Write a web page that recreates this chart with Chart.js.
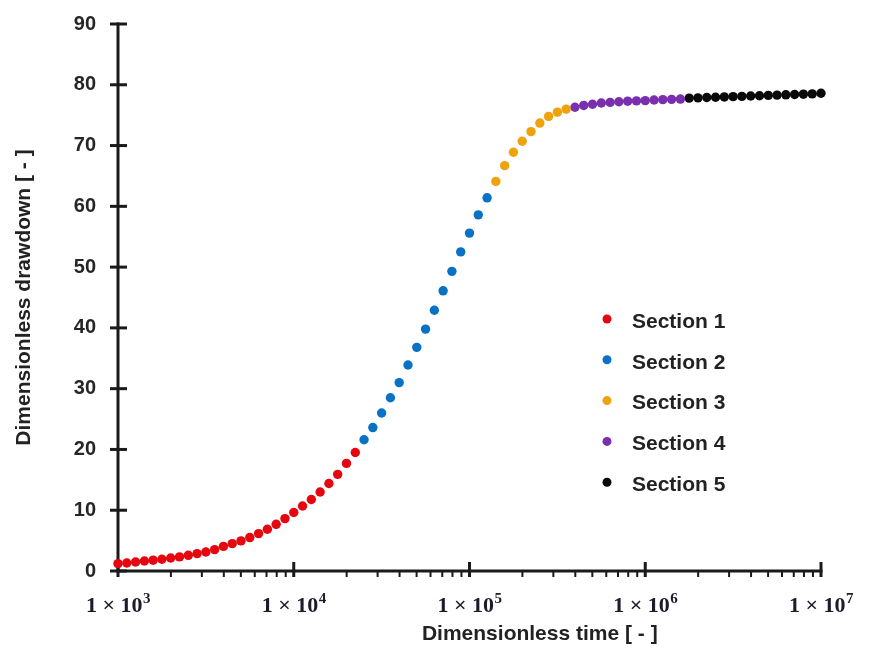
<!DOCTYPE html>
<html>
<head>
<meta charset="utf-8">
<title>Dimensionless drawdown vs dimensionless time</title>
<script src="https://cdn.jsdelivr.net/npm/chart.js@4.4.0/dist/chart.umd.min.js"></script>
<style>
  html, body { margin: 0; padding: 0; background: #ffffff; }
</style>
</head>
<body>
<canvas id="drawdownChart" width="876" height="651"></canvas>
<script>
'use strict';

// ***** DATA *****
let sectionNames = ['Section 1', 'Section 2', 'Section 3', 'Section 4', 'Section 5'];
let sectionColors = ['#e5060f', '#0a72c4', '#eea30c', '#7a2fae', '#0a0a0a'];

let section1Time = [1000, 1122, 1259, 1413, 1585, 1778, 1995, 2239, 2512, 2818,
  3162, 3548, 3981, 4467, 5012, 5623, 6310, 7079, 7943, 8913,
  10000, 11220, 12590, 14130, 15850, 17780, 19950, 22390];
let section1Drawdown = [1.22, 1.32, 1.48, 1.65, 1.78, 1.94, 2.14, 2.32, 2.58, 2.86,
  3.13, 3.52, 4.05, 4.5, 4.95, 5.5, 6.15, 6.87, 7.68, 8.62,
  9.62, 10.7, 11.76, 13.0, 14.4, 15.9, 17.7, 19.5];

let section2Time = [25120, 28180, 31620, 35480, 39810, 44670, 50120, 56230, 63100, 70790,
  79430, 89130, 100000, 112200, 125900];
let section2Drawdown = [21.6, 23.6, 26.0, 28.5, 31.0, 33.9, 36.8, 39.8, 42.9, 46.1,
  49.3, 52.5, 55.6, 58.6, 61.4];

let section3Time = [141300, 158500, 177800, 199500, 223900, 251200, 281800, 316200, 354800];
let section3Drawdown = [64.1, 66.7, 68.9, 70.7, 72.3, 73.7, 74.8, 75.5, 76.0];

let section4Time = [398100, 446700, 501200, 562300, 631000, 707900, 794300, 891300,
  1000000, 1122000, 1259000, 1413000, 1585000];
let section4Drawdown = [76.3, 76.6, 76.8, 77.0, 77.1, 77.2, 77.3, 77.35,
  77.4, 77.5, 77.55, 77.6, 77.65];

let section5Time = [1778000, 1995000, 2239000, 2512000, 2818000, 3162000, 3548000, 3981000,
  4467000, 5012000, 5623000, 6310000, 7079000, 7943000, 8913000, 10000000];
let section5Drawdown = [77.8, 77.85, 77.9, 77.95, 78.0, 78.05, 78.1, 78.15,
  78.2, 78.25, 78.3, 78.35, 78.4, 78.45, 78.5, 78.6];

let xTickValues = [1000, 10000, 100000, 1000000, 10000000];
let xTickBase = '1 × 10';
let xTickExponents = ['3', '4', '5', '6', '7'];
let xMinorSteps = [2, 3, 4, 5, 6, 7, 8, 9];
let yTickStep = 10;

// ***** HELPERS *****
function toPoints(times, values){
  let pts = [];
  for(let i = 0; i < times.length; i++){
    pts.push({x: times[i], y: values[i]});
  }
  return pts;
}

let sectionTimes = [section1Time, section2Time, section3Time, section4Time, section5Time];
let sectionDrawdowns = [section1Drawdown, section2Drawdown, section3Drawdown, section4Drawdown, section5Drawdown];

let datasets = [];
for(let s = 0; s < sectionNames.length; s++){
  datasets.push({
    label: sectionNames[s],
    data: toPoints(sectionTimes[s], sectionDrawdowns[s]),
    backgroundColor: sectionColors[s],
    borderColor: sectionColors[s],
    pointRadius: 4.7,
    pointBorderWidth: 0,
    pointHoverRadius: 4.7,
    showLine: false,
    clip: false
  });
}

// ***** PLUGINS *****
// axis lines plus the cross ticks, drawn from the scales
const axesPlugin = {
  id: 'axesPlugin',
  beforeDatasetsDraw(chart){
    const ctx = chart.ctx;
    const xs = chart.scales.x;
    const ys = chart.scales.y;
    const area = chart.chartArea;
    ctx.save();
    ctx.strokeStyle = '#1a1a1a';
    ctx.lineCap = 'butt';

    // y axis + ticks
    ctx.lineWidth = 3;
    ctx.beginPath();
    ctx.moveTo(area.left, ys.getPixelForValue(90) - 1.5);
    ctx.lineTo(area.left, ys.getPixelForValue(0) + 1.5);
    ctx.stroke();
    for(let v = 0; v <= 90; v += yTickStep){
      let py = ys.getPixelForValue(v);
      ctx.beginPath();
      ctx.moveTo(area.left - 8, py);
      ctx.lineTo(area.left + 9, py);
      ctx.stroke();
    }

    // x axis + decade ticks + minor ticks
    let y0 = ys.getPixelForValue(0);
    ctx.beginPath();
    ctx.moveTo(area.left, y0);
    ctx.lineTo(xs.getPixelForValue(xTickValues[xTickValues.length - 1]) + 1.5, y0);
    ctx.stroke();
    for(let i = 0; i < xTickValues.length; i++){
      let px = xs.getPixelForValue(xTickValues[i]);
      ctx.lineWidth = 3;
      ctx.beginPath();
      ctx.moveTo(px, y0 - 9);
      ctx.lineTo(px, y0 + 6);
      ctx.stroke();
      if(i < xTickValues.length - 1){
        ctx.lineWidth = 2;
        for(let m = 0; m < xMinorSteps.length; m++){
          let mx = xs.getPixelForValue(xTickValues[i] * xMinorSteps[m]);
          ctx.beginPath();
          ctx.moveTo(mx, y0);
          ctx.lineTo(mx, y0 + 6);
          ctx.stroke();
        }
      }
    }
    ctx.restore();
  }
};

// x tick labels with raised exponents, legend inside the plot, x title (right of centre in the original)
const labelsPlugin = {
  id: 'labelsPlugin',
  afterDraw(chart){
    const ctx = chart.ctx;
    const xs = chart.scales.x;
    const area = chart.chartArea;
    ctx.save();

    // x tick labels
    const baseFont = 'bold 22px "Liberation Serif", "Times New Roman", serif';
    const expFont = 'bold 15px "Liberation Serif", "Times New Roman", serif';
    ctx.fillStyle = '#1b1b2b';
    ctx.textBaseline = 'alphabetic';
    ctx.textAlign = 'left';
    for(let i = 0; i < xTickValues.length; i++){
      let px = xs.getPixelForValue(xTickValues[i]);
      ctx.font = baseFont;
      let wBase = ctx.measureText(xTickBase).width;
      ctx.font = expFont;
      let wExp = ctx.measureText(xTickExponents[i]).width;
      let startX = px - (wBase + wExp) / 2;
      ctx.font = baseFont;
      ctx.fillText(xTickBase, startX, 612);
      ctx.font = expFont;
      ctx.fillText(xTickExponents[i], startX + wBase + 0.5, 603);
    }

    // legend
    ctx.font = 'bold 21px "Liberation Sans", Arial, sans-serif';
    ctx.textBaseline = 'middle';
    ctx.textAlign = 'left';
    for(let s = 0; s < chart.data.datasets.length; s++){
      let ds = chart.data.datasets[s];
      let rowY = 322 + s * 40.8;
      ctx.fillStyle = ds.backgroundColor;
      ctx.beginPath();
      ctx.arc(607, rowY - 3, 4.5, 0, Math.PI * 2);
      ctx.fill();
      ctx.fillStyle = '#222222';
      ctx.fillText(ds.label, 632, rowY);
    }

    // x axis title
    ctx.textAlign = 'center';
    ctx.fillStyle = '#222222';
    ctx.fillText('Dimensionless time [ - ]', area.left + (area.right - area.left) * 0.6, 634);
    ctx.restore();
  }
};

// ***** CHART *****
const canvasElem = document.getElementById('drawdownChart');

new Chart(canvasElem, {
  type: 'scatter',
  data: { datasets: datasets },
  options: {
    responsive: false,
    animation: false,
    devicePixelRatio: 1,
    layout: { padding: { left: 0, top: 24, right: 55, bottom: 0 } },
    plugins: {
      legend: { display: false },
      tooltip: { enabled: false }
    },
    scales: {
      x: {
        type: 'logarithmic',
        min: 1000,
        max: 10000000,
        afterFit(scale){
          scale.height = 80;
          scale.paddingLeft = 0;
          scale.paddingRight = 0;
        },
        afterBuildTicks(scale){
          scale.ticks = xTickValues.map(v => ({ value: v }));
        },
        grid: { display: false, drawTicks: false },
        border: { display: false },
        ticks: { display: false }
      },
      y: {
        min: 0,
        max: 90,
        afterFit(scale){
          scale.width = 118;
          scale.paddingTop = 0;
          scale.paddingBottom = 0;
        },
        grid: { display: false, drawTicks: false },
        border: { display: false },
        ticks: {
          stepSize: yTickStep,
          padding: 22,
          color: '#262626',
          font: { family: '"Liberation Sans", Arial, sans-serif', size: 20, weight: 'bold' }
        },
        title: {
          display: true,
          text: 'Dimensionless drawdown [ - ]',
          color: '#222222',
          padding: { top: 12, bottom: 0 },
          font: { family: '"Liberation Sans", Arial, sans-serif', size: 21, weight: 'bold' }
        }
      }
    }
  },
  plugins: [axesPlugin, labelsPlugin]
});
</script>
</body>
</html>
